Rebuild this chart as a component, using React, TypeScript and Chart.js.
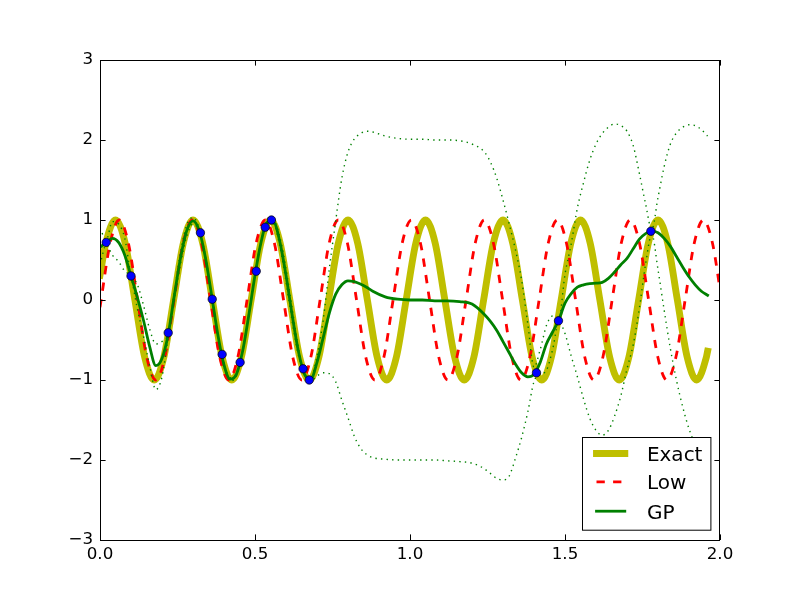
import React, { useEffect, useRef } from 'react';
import { Chart, registerables } from 'chart.js';

Chart.register(...registerables);

// "Exact" high-fidelity curve (yellow)
const exactX = [
  0, 0.0188, 0.05, 0.0813, 0.1125, 0.1438, 0.175, 0.2063, 0.2375, 0.2688,
  0.3, 0.3313, 0.3625, 0.3938, 0.425, 0.4563, 0.4875, 0.5188, 0.55, 0.5813,
  0.6125, 0.6438, 0.675, 0.7063, 0.7375, 0.7688, 0.8, 0.8313, 0.8625, 0.8938,
  0.925, 0.9563, 0.9875, 1.0188, 1.05, 1.0813, 1.1125, 1.1438, 1.175, 1.2063,
  1.2375, 1.2688, 1.3, 1.3313, 1.3625, 1.3938, 1.425, 1.4563, 1.4875, 1.5188,
  1.55, 1.5813, 1.6125, 1.6438, 1.675, 1.7063, 1.7375, 1.7688, 1.8, 1.8313,
  1.8625, 1.8938, 1.925, 1.9563, 1.96,
];
const exactY = [
  0.31, 0.71, 1, 0.71, 0, -0.71, -1, -0.71, 0, 0.71,
  1, 0.71, 0, -0.71, -1, -0.71, 0, 0.71, 1, 0.71,
  0, -0.71, -1, -0.71, 0, 0.71, 1, 0.71, 0, -0.71,
  -1, -0.71, 0, 0.71, 1, 0.71, 0, -0.71, -1, -0.71,
  0, 0.71, 1, 0.71, 0, -0.71, -1, -0.71, 0, 0.71,
  1, 0.71, 0, -0.71, -1, -0.71, 0, 0.71, 1, 0.71,
  0, -0.71, -1, -0.71, -0.64,
];

// "Low" fidelity curve (red dashed)
const lowX = [
  0, 0.0328,
  0.0622, 0.0916, 0.1211, 0.1505, 0.18, 0.2094, 0.2388, 0.2683,
  0.2977, 0.3272, 0.3566, 0.386, 0.4155, 0.4449, 0.4744, 0.5038,
  0.5332, 0.5627, 0.5921, 0.6216, 0.651, 0.6804, 0.7099, 0.7393,
  0.7688, 0.7982, 0.8276, 0.8571, 0.8865, 0.916, 0.9454, 0.9748,
  1.0043, 1.0337, 1.0632, 1.0926, 1.122, 1.1515, 1.1809, 1.2104,
  1.2398, 1.2692, 1.2987, 1.3281, 1.3576, 1.387, 1.4164, 1.4459,
  1.4753, 1.5048, 1.5342, 1.5636, 1.5931, 1.6225, 1.652, 1.6814,
  1.7108, 1.7403, 1.7697, 1.7992, 1.8286, 1.858, 1.8875, 1.9169,
  1.9464, 1.9758,
  2.0,
];
const lowY = [
  -0.09, 0.71,
  1, 0.71, 0, -0.71, -1, -0.71, 0, 0.71,
  1, 0.71, 0, -0.71, -1, -0.71, 0, 0.71,
  1, 0.71, 0, -0.71, -1, -0.71, 0, 0.71,
  1, 0.71, 0, -0.71, -1, -0.71, 0, 0.71,
  1, 0.71, 0, -0.71, -1, -0.71, 0, 0.71,
  1, 0.71, 0, -0.71, -1, -0.71, 0, 0.71,
  1, 0.71, 0, -0.71, -1, -0.71, 0, 0.71,
  1, 0.71, 0, -0.71, -1, -0.71, 0, 0.71,
  1, 0.71,
  0.14,
];

// GP posterior mean and dotted band
const gpX = [
  0, 0.02, 0.04, 0.06, 0.08, 0.1, 0.12, 0.14, 0.16, 0.18,
  0.2, 0.22, 0.24, 0.26, 0.28, 0.3, 0.32, 0.34, 0.36, 0.38,
  0.4, 0.42, 0.44, 0.46, 0.48, 0.5, 0.52, 0.54, 0.56, 0.58,
  0.6, 0.62, 0.64, 0.66, 0.68, 0.7, 0.72, 0.74, 0.76, 0.78,
  0.8, 0.82, 0.84, 0.86, 0.88, 0.92, 0.96, 1.0, 1.04, 1.08,
  1.12, 1.16, 1.2, 1.24, 1.26, 1.28, 1.3, 1.32, 1.34, 1.36,
  1.38, 1.4, 1.42, 1.44, 1.46, 1.48, 1.5, 1.52, 1.54, 1.56,
  1.58, 1.6, 1.62, 1.64, 1.66, 1.68, 1.7, 1.72, 1.74, 1.76,
  1.78, 1.8, 1.82, 1.84, 1.86, 1.88, 1.9, 1.92, 1.94, 1.96,
];
const gpMean = [
  0.66, 0.72, 0.77, 0.72, 0.56, 0.3, 0.04, -0.25, -0.58, -0.82,
  -0.73, -0.43, 0.06, 0.53, 0.87, 0.99, 0.87, 0.53, 0.06, -0.43,
  -0.81, -0.99, -0.93, -0.64, -0.19, 0.31, 0.73, 0.97, 0.97, 0.73,
  0.31, -0.19, -0.64, -0.93, -0.99, -0.78, -0.47, -0.16, 0.07, 0.19,
  0.24, 0.23, 0.2, 0.16, 0.11, 0.04, 0.01, 0.0, 0.0, -0.01,
  -0.01, -0.02, -0.05, -0.18, -0.27, -0.38, -0.52, -0.66, -0.8, -0.91,
  -0.96, -0.93, -0.78, -0.55, -0.4, -0.25, -0.04, 0.08, 0.16, 0.19,
  0.205, 0.21, 0.22, 0.27, 0.35, 0.44, 0.52, 0.64, 0.76, 0.83,
  0.86, 0.84, 0.77, 0.67, 0.54, 0.41, 0.29, 0.19, 0.11, 0.06,
];
const gpUpper = [
  0.9, 0.75, 0.98, 0.95, 0.77, 0.32, 0.2, -0.06, -0.36, -0.55,
  -0.52, -0.41, 0.1, 0.6, 0.94, 1.03, 0.89, 0.55, 0.07, -0.42,
  -0.79, -0.97, -0.91, -0.62, -0.17, 0.32, 0.74, 0.98, 0.99, 0.79,
  0.39, -0.11, -0.59, -0.92, -0.97, -0.7, -0.25, 0.4, 0.98, 1.52,
  1.85, 2.01, 2.08, 2.11, 2.1, 2.05, 2.02, 2.01, 2.01, 2.0,
  2.0, 1.99, 1.95, 1.85, 1.72, 1.52, 1.25, 0.95, 0.63, 0.25,
  -0.3, -0.84, -0.62, -0.32, -0.2, -0.24, 0.32, 0.7, 1.15, 1.47,
  1.75, 1.95, 2.08, 2.16, 2.2, 2.18, 2.11, 1.93, 1.58, 1.2,
  0.88, 1.28, 1.67, 1.95, 2.09, 2.16, 2.19, 2.18, 2.13, 2.05,
];
const gpLower = [
  0.44, 0.69, 0.56, 0.48, 0.36, 0.28, -0.1, -0.45, -0.82, -1.12,
  -0.96, -0.46, 0.02, 0.46, 0.8, 0.95, 0.85, 0.51, 0.05, -0.44,
  -0.83, -1.01, -0.95, -0.66, -0.21, 0.3, 0.72, 0.96, 0.95, 0.67,
  0.23, -0.27, -0.69, -0.94, -1.01, -0.95, -0.91, -0.92, -1.02, -1.25,
  -1.47, -1.7, -1.85, -1.93, -1.97, -1.99, -2.0, -2.0, -2.0, -2.0,
  -2.01, -2.02, -2.04, -2.11, -2.17, -2.23, -2.25, -2.2, -1.98, -1.72,
  -1.4, -1.02, -0.93, -0.88, -0.62, -0.27, -0.42, -0.7, -0.96, -1.24,
  -1.48, -1.63, -1.69, -1.63, -1.45, -1.2, -0.86, -0.56, -0.1, 0.45,
  0.82, 0.38, -0.13, -0.61, -1.01, -1.34, -1.61, -1.8, -1.91, -1.93,
];

// observed high-fidelity samples (blue dots)
const obsX = [0.02, 0.1, 0.22, 0.324, 0.362, 0.394, 0.452, 0.504, 0.533, 0.553, 0.655, 0.675, 1.408, 1.479, 1.777];
const obsY = [0.72, 0.3, -0.41, 0.84, 0.01, -0.68, -0.78, 0.36, 0.91, 1.0, -0.86, -1.0, -0.91, -0.26, 0.86];

const xTicks = [0, 0.5, 1, 1.5, 2];
const yTicks = [-3, -2, -1, 0, 1, 2, 3];
const legendLabels = ['Exact', 'Low', 'GP'];

const YELLOW = '#bfbf00';
const RED = '#ff0000';
const GREEN = '#008000';
const FONT = '"DejaVu Sans", "Liberation Sans", sans-serif';

const pts = (xs: number[], ys: number[]) => xs.map((x, i) => ({ x, y: ys[i] }));

// box + inward ticks on every side, like matplotlib classic
const framePlugin = {
  id: 'frame',
  afterDatasetsDraw(chart: any) {
    const { ctx, chartArea: a, scales } = chart;
    ctx.save();
    ctx.strokeStyle = '#000';
    ctx.lineWidth = 1;
    ctx.setLineDash([]);
    ctx.strokeRect(a.left + 0.5, a.top + 0.5, a.right - a.left - 1, a.bottom - a.top);
    const tl = 5.6;
    ctx.beginPath();
    xTicks.forEach((v) => {
      const px = Math.round(scales.x.getPixelForValue(v)) + 0.5;
      ctx.moveTo(px, a.bottom);
      ctx.lineTo(px, a.bottom - tl);
      ctx.moveTo(px, a.top);
      ctx.lineTo(px, a.top + tl);
    });
    yTicks.forEach((v) => {
      const py = Math.round(scales.y.getPixelForValue(v)) + 0.5;
      ctx.moveTo(a.left, py);
      ctx.lineTo(a.left + tl, py);
      ctx.moveTo(a.right, py);
      ctx.lineTo(a.right - tl, py);
    });
    ctx.stroke();
    ctx.restore();
  },
};

const legendPlugin = {
  id: 'boxLegend',
  afterDraw(chart: any) {
    const { ctx, chartArea: a } = chart;
    const w = 128.4;
    const h = 92.7;
    const x0 = Math.round(a.right - 9.3 - w) + 0.5;
    const y0 = Math.round(a.bottom - 10 - h) + 0.5;
    ctx.save();
    ctx.fillStyle = '#fff';
    ctx.fillRect(x0, y0, w, h);
    ctx.strokeStyle = '#000';
    ctx.lineWidth = 1;
    ctx.strokeRect(x0, y0, w, h);

    const rows = [16, 44.4, 73.7];
    const styles = [
      { color: YELLOW, width: 6.9, dash: [] as number[], cap: 'square' },
      { color: RED, width: 2.8, dash: [8.3, 8.3], cap: 'butt' },
      { color: GREEN, width: 2.8, dash: [] as number[], cap: 'square' },
    ];
    legendLabels.forEach((label, i) => {
      const yc = y0 + rows[i];
      const s = styles[i];
      ctx.beginPath();
      ctx.strokeStyle = s.color;
      ctx.lineWidth = s.width;
      ctx.lineCap = s.cap;
      ctx.setLineDash(s.dash);
      ctx.moveTo(x0 + 14, yc);
      ctx.lineTo(x0 + 42.3, yc);
      ctx.stroke();
      ctx.setLineDash([]);
      ctx.fillStyle = '#000';
      ctx.font = `20px ${FONT}`;
      ctx.textBaseline = 'alphabetic';
      ctx.textAlign = 'left';
      ctx.fillText(label, x0 + 64.4, yc + 7.3);
    });
    ctx.restore();
  },
};

const App: React.FC = () => {
  const canvasRef = useRef<HTMLCanvasElement>(null);
  const chartRef = useRef<Chart | null>(null);

  useEffect(() => {
    document.body.style.margin = '0';
    if (!canvasRef.current) return;
    const ctx = canvasRef.current.getContext('2d');
    if (!ctx) return;

    if (chartRef.current) chartRef.current.destroy();

    const lineBase = {
      pointRadius: 0,
      fill: false,
      clip: 0,
      cubicInterpolationMode: 'monotone' as const,
      borderJoinStyle: 'round' as const,
    };

    chartRef.current = new Chart(ctx, {
      type: 'line',
      data: {
        datasets: [
          {
            label: 'obs',
            data: pts(obsX, obsY),
            showLine: false,
            pointRadius: 4.2,
            pointBackgroundColor: '#0000ff',
            pointBorderColor: '#000',
            pointBorderWidth: 0.7,
            clip: 0,
            order: 0,
          },
          {
            ...lineBase,
            label: 'upper',
            data: pts(gpX, gpUpper),
            borderColor: GREEN,
            borderWidth: 1.4,
            borderDash: [1.4, 4.2],
            order: 1,
          },
          {
            ...lineBase,
            label: 'lower',
            data: pts(gpX, gpLower),
            borderColor: GREEN,
            borderWidth: 1.4,
            borderDash: [1.4, 4.2],
            order: 1,
          },
          {
            ...lineBase,
            label: 'GP',
            data: pts(gpX, gpMean),
            borderColor: GREEN,
            borderWidth: 2.8,
            borderCapStyle: 'square',
            order: 2,
          },
          {
            ...lineBase,
            label: 'Low',
            data: pts(lowX, lowY),
            borderColor: RED,
            borderWidth: 2.8,
            borderDash: [8.3, 8.3],
            order: 3,
          },
          {
            ...lineBase,
            label: 'Exact',
            data: pts(exactX, exactY),
            borderColor: YELLOW,
            borderWidth: 6.9,
            borderCapStyle: 'square',
            order: 4,
          },
        ],
      },
      options: {
        responsive: false,
        animation: false,
        events: [],
        layout: { padding: { left: 0, right: 80, top: 60, bottom: 0 } },
        plugins: {
          legend: { display: false },
          tooltip: { enabled: false },
        },
        scales: {
          x: {
            type: 'linear',
            min: 0,
            max: 2,
            grid: { display: false, drawTicks: false },
            border: { display: false },
            afterFit: (scale: any) => {
              scale.height = 60;
            },
            ticks: {
              stepSize: 0.5,
              autoSkip: false,
              maxRotation: 0,
              padding: 5,
              color: '#000',
              font: { family: FONT, size: 16.7 },
              callback: (v: any) => Number(v).toFixed(1),
            },
          },
          y: {
            type: 'linear',
            min: -3,
            max: 3,
            grid: { display: false, drawTicks: false },
            border: { display: false },
            afterFit: (scale: any) => {
              scale.width = 100;
            },
            ticks: {
              stepSize: 1,
              padding: 7,
              color: '#000',
              font: { family: FONT, size: 16.7 },
              callback: (v: any) => (Number(v) < 0 ? '\u2212' + Math.abs(Number(v)) : String(v)),
            },
          },
        },
      },
      plugins: [framePlugin, legendPlugin],
    });

    return () => {
      if (chartRef.current) {
        chartRef.current.destroy();
        chartRef.current = null;
      }
    };
  }, []);

  return (
    <div style={{ width: 800, height: 600, background: '#fff' }}>
      <canvas ref={canvasRef} width={800} height={600} />
    </div>
  );
};

export default App;
